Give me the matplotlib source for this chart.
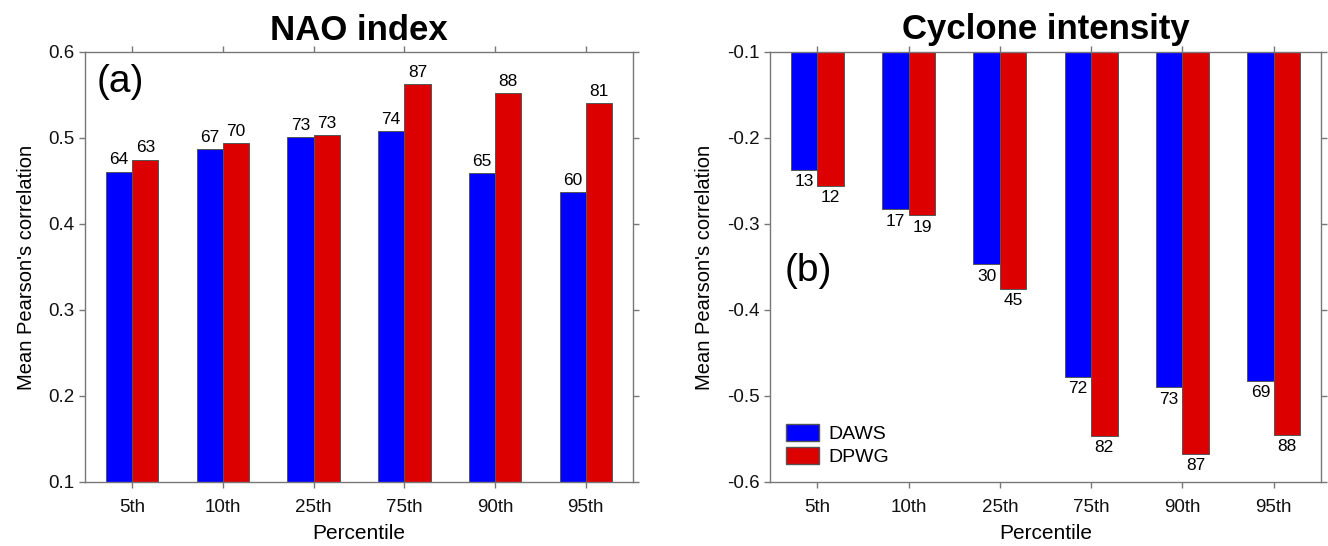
import numpy as np
import matplotlib
matplotlib.use("Agg")
import matplotlib.pyplot as plt
from matplotlib.patches import Patch

plt.rcParams['font.family'] = ['Liberation Sans', 'DejaVu Sans']

percentiles = ["5th", "10th", "25th", "75th", "90th", "95th"]

# NAO index
nao_daws = [0.461, 0.487, 0.501, 0.508, 0.459, 0.437]
nao_dpwg = [0.475, 0.494, 0.503, 0.563, 0.552, 0.541]
nao_daws_lbl = [64, 67, 73, 74, 65, 60]
nao_dpwg_lbl = [63, 70, 73, 87, 88, 81]

# Cyclone intensity
cyc_daws = [-0.237, -0.283, -0.347, -0.478, -0.490, -0.482]
cyc_dpwg = [-0.256, -0.290, -0.375, -0.546, -0.567, -0.545]
cyc_daws_lbl = [13, 17, 30, 72, 73, 69]
cyc_dpwg_lbl = [12, 19, 45, 82, 87, 88]

blue = "#0000ff"
red = "#dd0000"
edge = "#555555"
spine = "#777777"
w = 0.29

fig = plt.figure(figsize=(13.28, 5.46), dpi=100)
W, H = 1328, 546
ax1 = fig.add_axes([85 / W, 1 - 482 / H, 548 / W, 430 / H])
ax2 = fig.add_axes([770 / W, 1 - 482 / H, 551 / W, 430 / H])

x = np.arange(1, len(percentiles) + 1)


def style(ax):
    for s in ax.spines.values():
        s.set_color(spine)
        s.set_linewidth(1.0)
    ax.tick_params(direction="out", length=4, width=1, color=spine,
                   labelsize=13.5, top=True, right=True, labelcolor="#111111")
    ax.tick_params(axis="x", pad=8)
    ax.set_xticks(x)
    ax.set_xticklabels(percentiles)
    ax.set_xlim(0.48, 6.52)
    ax.set_xlabel("Percentile", fontsize=15, labelpad=6)
    ax.set_ylabel("Mean Pearson's correlation", fontsize=14.5, labelpad=9)


# --- panel (a) ---
ax1.bar(x - w / 2, nao_daws, w, color=blue, edgecolor=edge, linewidth=0.7)
ax1.bar(x + w / 2, nao_dpwg, w, color=red, edgecolor=edge, linewidth=0.7)
for xi, v, t in zip(x - w / 2, nao_daws, nao_daws_lbl):
    ax1.annotate(str(t), (xi, v), xytext=(0, 3), textcoords="offset points",
                 ha="center", va="bottom", fontsize=12.5)
for xi, v, t in zip(x + w / 2, nao_dpwg, nao_dpwg_lbl):
    ax1.annotate(str(t), (xi, v), xytext=(0, 3), textcoords="offset points",
                 ha="center", va="bottom", fontsize=12.5)
ax1.set_ylim(0.1, 0.6)
ax1.set_yticks([0.1, 0.2, 0.3, 0.4, 0.5, 0.6])
ax1.set_yticklabels(["0.1", "0.2", "0.3", "0.4", "0.5", "0.6"])
style(ax1)
ax1.set_title("NAO index", fontsize=25, fontweight="bold", pad=9)
ax1.text(0.022, 0.93, "(a)", transform=ax1.transAxes, fontsize=28,
         ha="left", va="center")

# --- panel (b) ---
ax2.bar(x - w / 2, cyc_daws, w, color=blue, edgecolor=edge, linewidth=0.7,
        label="DAWS")
ax2.bar(x + w / 2, cyc_dpwg, w, color=red, edgecolor=edge, linewidth=0.7,
        label="DPWG")
for xi, v, t in zip(x - w / 2, cyc_daws, cyc_daws_lbl):
    ax2.annotate(str(t), (xi, v), xytext=(0, -3), textcoords="offset points",
                 ha="center", va="top", fontsize=12.5)
for xi, v, t in zip(x + w / 2, cyc_dpwg, cyc_dpwg_lbl):
    ax2.annotate(str(t), (xi, v), xytext=(0, -3), textcoords="offset points",
                 ha="center", va="top", fontsize=12.5)
ax2.set_ylim(-0.6, -0.1)
ax2.set_yticks([-0.6, -0.5, -0.4, -0.3, -0.2, -0.1])
ax2.set_yticklabels(["-0.6", "-0.5", "-0.4", "-0.3", "-0.2", "-0.1"])
style(ax2)
ax2.set_title("Cyclone intensity", fontsize=25, fontweight="bold", pad=9)
ax2.text(0.027, 0.49, "(b)", transform=ax2.transAxes, fontsize=28,
         ha="left", va="center")
handles = [Patch(facecolor=blue, edgecolor=edge, label="DAWS"),
           Patch(facecolor=red, edgecolor=edge, label="DPWG")]
ax2.legend(handles=handles, loc="lower left", frameon=False, fontsize=14,
           handlelength=1.7, handleheight=1.0, handletextpad=0.5,
           labelspacing=0.2, borderaxespad=0.4)

fig.savefig("out.png", dpi=100)
